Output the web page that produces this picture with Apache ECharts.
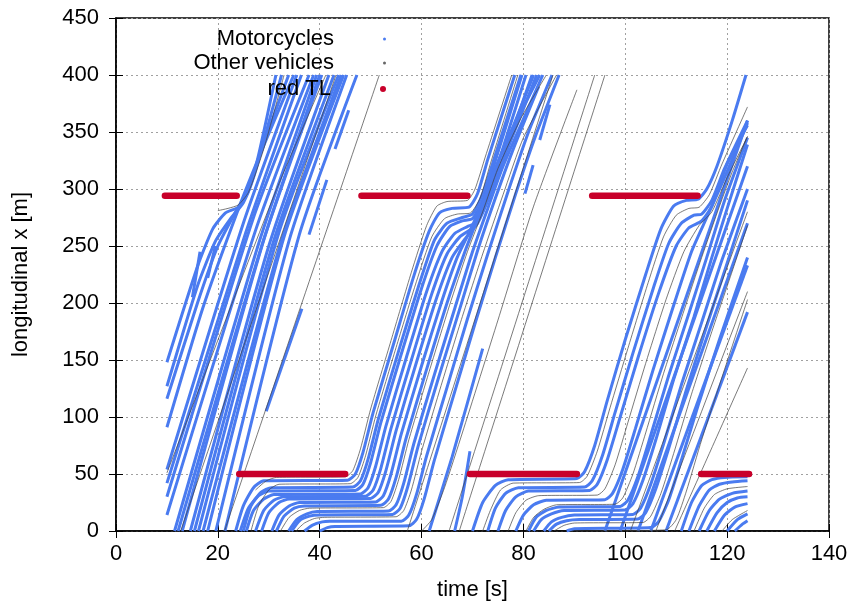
<!doctype html>
<html>
<head>
<meta charset="UTF-8">
<title>Vehicle trajectories and traffic lights</title>
<script src="https://cdn.jsdelivr.net/npm/echarts@6/dist/echarts.min.js"></script>
<style>
  html, body { margin: 0; padding: 0; background: #fff; }
  #main { width: 857px; height: 606px; }
</style>
</head>
<body>
<div id="main"></div>
<script>
// trajectories, each one [t0, x0, t1, x1, ...] (time s, position m)
var motoTracks = [
  // first platoon, crossing the upper light once it turns green (t = 24 s)
  [10,148, 16,232, 19,265, 21.5,279, 24,284, 26,298, 28,330, 31.4,400],
  [10,127, 16,215, 19.5,254, 22.5,274, 25,288, 27,310, 29.5,350, 32.5,400],
  [10,116, 16,200, 20,250, 23.5,280, 26,300, 30,352, 33.9,400],
  [10,91, 17,195, 24,282, 29,338, 34.9,400],
  [10,54, 25,270, 35.5,400],
  [10,42, 25.5,262, 36.4,400],
  [10,30, 27,275, 37.9,400],
  [10,14, 27.5,265, 38.8,400],
  [11.5,0, 28,252, 39.4,400],
  [12.2,0, 28.6,250, 40,400],
  [13,0, 29,255, 40.4,400],
  [14.6,0, 30,250, 41.8,400],
  [15.4,0, 31,255, 42.8,400],
  [16.2,0, 32,262, 43.7,400],
  [17.1,0, 32.5,255, 44.2,400],
  [18,0, 33,258, 44.7,400],
  [19.6,0, 34,255, 45.3,400],
  [21.4,0, 36,260, 47.3,400],
  [15,205, 16.5,245],
  [18,222, 19.5,250],
  [29.5,105, 36.5,195],
  [37.9,260, 41.4,308],
  [43,335, 45.7,369],
  // queue at the lower light, released at 45 s, some stopped again at the upper light
  [23.5,0, 25,22, 27,38, 29,44, 45.5,44.5, 47,50, 48.5,69, 50.5,104, 54.5,164, 58.5,224, 61.5,263, 63.5,279, 66,283, 69.3,284, 71,296, 73,326, 78.3,400],
  [24.4,0, 26,20, 28,31, 30,35, 47,35.5, 48.5,41, 50,60, 52,95, 56,155, 60,213, 63,250, 65.5,267, 68,272, 70,274, 72,290, 74.5,325, 79.7,400],
  [25,0, 26.5,22, 28.5,34, 30.5,38, 46.5,38.5, 48,44, 49.5,63, 51.5,98, 55.5,158, 59.5,216, 62.5,255, 65,270, 68,275, 70,278, 72,296, 74.5,330, 79.5,400],
  [25.6,0, 27,18, 29,28, 31,32, 48,32.5, 49.5,38, 51,57, 53,92, 57,152, 61,210, 64,245, 66.5,261, 69,267, 70.5,270, 72.5,288, 75,322, 80.5,400],
  [27.4,0, 29,18, 31,27, 33,30, 49,30.5, 50.5,36, 52,55, 54,90, 58,150, 62,208, 65,243, 67.5,258, 70,266, 72,280, 75,315, 81.7,400],
  [28.6,0, 30,16, 32,25, 34,28, 50,28.5, 51.5,34, 53,53, 55,88, 59,148, 63,205, 66,240, 68.5,256, 71,270, 73,290, 76,325, 82.6,400],
  [30.6,0, 32,14, 34,22, 36,25, 51,25.5, 52.5,31, 54,50, 56,85, 60,145, 64,202, 67,240, 70,268, 73,300, 76.5,340, 83.2,400],
  [31.5,0, 33,13, 35,20, 37,22, 52,22.5, 53.5,28, 55,47, 57,82, 61,142, 65,200, 68.5,245, 71.5,280, 74.5,318, 78,355, 82,400],
  [33.9,0, 35.5,10, 37.5,15, 39.5,17, 53.5,17.5, 55,23, 56.5,42, 58.5,77, 62.5,137, 66.5,195, 70,245, 73,283, 76,320, 83.8,400],
  [34.5,0, 36,9, 38,13, 40,14, 54.3,14.5, 55.8,20, 57.3,39, 59.3,74, 63.3,134, 67.3,192, 71,246, 74.5,292, 78,335, 83,390],
  [37,0, 38.5,5, 40.5,8, 42,8.5, 56,8.5, 57.5,14, 59,32, 61,66, 65,126, 69,186, 73,243, 77,298, 81,350, 85.6,400],
  [40,0, 41.5,3, 43,4, 57.5,4.5, 59,10, 60.5,28, 62.5,62, 66.5,122, 70.5,182, 74.5,240, 78.5,296, 82.5,348, 87,400],
  // free runs during the second green
  [61.5,0, 66,65, 72,160],
  [80.3,296, 81.9,321],
  [83.2,343, 85.2,374],
  [66.5,0, 68,30, 69.5,70],
  // queue at the lower light, released at 90.5 s
  [70,0, 72,25, 74.5,40, 77,45, 90.5,46, 92,52, 94,75, 96.5,115, 100,168, 104,225, 107,265, 109.5,285, 112,290, 114.3,291, 116,300, 118,320, 121,360, 123.7,400],
  [73,0, 74.5,20, 76.5,33, 79,38, 92,38.5, 93.5,44, 95.5,66, 98,104, 101.5,156, 105.5,213, 108.5,252, 111,270, 113.5,277, 115,278, 117,290, 119.5,318, 124,360],
  [75,0, 76.5,18, 78.5,30, 81,35, 93,35.5, 94.5,41, 96.5,63, 99,100, 102.5,152, 106.5,208, 110,250, 112.5,266, 115,272, 117,285, 120,322, 124,356],
  [78.5,0, 80,14, 82,23, 84.5,27, 96,27.5, 97.5,33, 99.5,54, 102,90, 105.5,142, 109.5,198, 113,245, 116,275, 119,305, 124,358],
  [81,0, 82.5,12, 84.5,18, 87,21, 99,21.5, 100.5,27, 102.5,48, 105,84, 108.5,136, 112.5,191, 116,240, 119.5,290, 124,345],
  [82,0, 83.5,10, 85.5,15, 88,18, 100,18.5, 101.5,24, 103.5,45, 106,80, 109.5,133, 113.5,188, 117,240, 120.5,290, 124,339],
  [84,0, 85.5,8, 87.5,12, 90,14, 101.5,14.5, 103,20, 105,41, 107.5,76, 111,128, 115,183, 119,238, 124,300],
  [85,0, 86.5,6, 88.5,9, 91,10, 102.5,10.5, 104,16, 106,37, 108.5,72, 112,124, 116,180, 120,235, 124,290],
  [88.5,0, 90,2, 105,3, 106.5,8, 108.5,27, 111,62, 114.5,113, 118.5,168, 124,240],
  // free runs during the third green
  [96,0, 124,360],
  [99,0, 124,320],
  [102.5,0, 124,270],
  [105,0, 124,233],
  [108,0, 124,192],
  // last queue at the lower light
  [111,0, 113,25, 115,40, 117,45, 119.5,47, 124,47.5],
  [112.5,0, 114.5,22, 116.5,36, 118.5,41, 121,43, 124,44],
  [114.5,0, 116.5,18, 118.5,28, 121,33, 124,35],
  [116,0, 118,16, 120,25, 122,29, 124,30],
  [117.5,0, 119.5,14, 121.5,21, 124,24],
  [120,0, 122,10, 124,15],
  [121.5,0, 123,6, 124,9]
];

var otherTracks = [
  [20,281, 22,283, 24,286, 26,297, 29,335, 33,400],
  [10,51, 31,294, 41.2,400],
  [12.7,0, 43.2,400],
  [21.3,0, 51.7,400],
  [27.4,36, 29.5,44, 31.5,47, 45,47.5, 46.5,53, 48,72, 50,107, 54,167, 58,227, 61,268, 63,285, 65,289, 69,290, 70.5,300, 72.5,328, 77.7,400],
  [26.5,0, 28,22, 30,36, 32,41, 46,41.5, 47.5,47, 49,66, 51,101, 55,161, 59,219, 62,258, 64.5,274, 67,278, 69.6,279, 71.5,292, 73.5,322, 78.9,400],
  [32.3,0, 34,12, 36,18, 38,20, 52.5,20.5, 54,26, 55.5,45, 57.5,80, 61.5,140, 65.5,198, 69,245, 72,280, 75,318, 79.5,362, 84.5,400],
  [35.3,0, 37,7, 39,11, 41,12, 55,12.5, 56.5,18, 58,36, 60,70, 64,130, 68,188, 72,243, 76,295, 80,345, 86.5,400],
  [57.2,0, 85.8,400],
  [60,0, 62,10, 64.5,38, 68,86, 75,185, 82,285, 90.5,387],
  [65.4,0, 94,400],
  [67.4,0, 96,400],
  [72,0, 73.5,18, 75.5,36, 78,42, 91,42.5, 92.5,48, 94.5,70, 97,108, 100.5,160, 104.5,218, 107.5,258, 110,277, 112.5,283, 114.5,284, 116.5,295, 119,322, 124,372],
  [77,0, 78.5,16, 80.5,27, 83,31, 94.5,31.5, 96,37, 98,58, 100.5,95, 104,147, 108,203, 111.5,245, 114.5,268, 117,280, 120,310, 124,346],
  [80.5,0, 82,12, 84,19, 86.5,23, 98,23.5, 99.5,29, 101.5,50, 104,86, 107.5,138, 111.5,193, 115,240, 118.5,285, 121,315, 124,346],
  [86,0, 88,5, 90,7, 103.5,7.5, 105,13, 107,33, 109.5,68, 113,120, 117,175, 121,228, 124,268],
  [90,0, 108,1, 110,10, 112,35, 115,80, 119,135, 124,203],
  [101,0, 124,280],
  [106,0, 124,210],
  [109.7,0, 116.8,71, 124,143],
  [113.5,0, 115.5,20, 117.5,32, 120,37, 124,39],
  [119,0, 121,10, 124,18]
];

// red phases of the two lights: position, start, end
var tlPos   = [294, 294, 294, 50, 50, 50];
var tlStart = [9.6, 48.2, 93.5, 24.2, 69.5, 114.9];
var tlEnd   = [23.7, 69.0, 114.2, 45.0, 90.5, 124.3];

var BLUE = '#4a7bf0';
var DARK = '#404040';
var RED = '#c8002a';
var FONT = 'Liberation Sans';

function pairs(tr) {
    var out = [];
    for (var i = 0; i < tr.length; i += 2) out.push([tr[i], tr[i + 1]]);
    return out;
}

var series = [];
motoTracks.forEach(function (tr) {
    series.push({
        name: 'Motorcycles', type: 'line', data: pairs(tr),
        symbol: 'none', smooth: 0.2, silent: true, z: 2,
        lineStyle: { color: BLUE, width: 3 }, itemStyle: { color: BLUE }
    });
});
otherTracks.forEach(function (tr) {
    series.push({
        name: 'Other vehicles', type: 'line', data: pairs(tr),
        symbol: 'none', smooth: 0.2, silent: true, z: 3,
        lineStyle: { color: DARK, width: 0.7 }, itemStyle: { color: '#666' }
    });
});
for (var i = 0; i < tlPos.length; i++) {
    series.push({
        name: 'red TL', type: 'line', data: [[tlStart[i], tlPos[i]], [tlEnd[i], tlPos[i]]],
        symbol: 'none', silent: true, z: 4,
        lineStyle: { color: RED, width: 6.5, cap: 'round' }, itemStyle: { color: RED }
    });
}

function legendFor(name, top, size) {
    return {
        data: [{ name: name, icon: 'circle' }],
        orient: 'vertical', align: 'right', right: 466, top: top,
        itemWidth: size, itemHeight: size, selectedMode: false,
        textStyle: { fontFamily: FONT, fontSize: 22, color: '#000', padding: [0, 44, 0, 0] }
    };
}

var gridLine = { show: true, lineStyle: { color: '#a0a0a0', type: [2, 3], width: 1 } };
var tick = { show: true, inside: true, length: 7, lineStyle: { color: '#000' } };

var myChart = echarts.init(document.getElementById('main'));
var option = {
    animation: false,
    backgroundColor: '#fff',
    grid: { left: 116, right: 28, top: 18, bottom: 75, show: true, borderColor: '#000', borderWidth: 1.5 },
    legend: [
        legendFor('Motorcycles', 23, 3),
        legendFor('Other vehicles', 47, 3),
        legendFor('red TL', 73, 6)
    ],
    xAxis: [{
        type: 'value', min: 0, max: 140, interval: 20, position: 'bottom',
        name: 'time [s]', nameLocation: 'middle', nameGap: 48,
        nameTextStyle: { fontFamily: FONT, fontSize: 22, color: '#000' },
        axisLine: { show: true, lineStyle: { color: '#000', width: 1.5 } },
        axisTick: tick,
        axisLabel: { fontFamily: FONT, fontSize: 22, color: '#000', margin: 12 },
        splitLine: gridLine
    }, {
        type: 'value', min: 0, max: 140, interval: 20, position: 'top',
        axisLine: { show: false }, axisTick: tick, axisLabel: { show: false }, splitLine: { show: false }
    }],
    yAxis: [{
        type: 'value', min: 0, max: 450, interval: 50, position: 'left',
        name: 'longitudinal x [m]', nameLocation: 'middle', nameGap: 84,
        nameTextStyle: { fontFamily: FONT, fontSize: 22, color: '#000' },
        axisLine: { show: true, lineStyle: { color: '#000', width: 1.5 } },
        axisTick: tick,
        axisLabel: { fontFamily: FONT, fontSize: 22, color: '#000', margin: 17 },
        splitLine: gridLine
    }, {
        type: 'value', min: 0, max: 450, interval: 50, position: 'right',
        axisLine: { show: false }, axisTick: tick, axisLabel: { show: false }, splitLine: { show: false }
    }],
    series: series
};
myChart.setOption(option);
</script>
</body>
</html>
